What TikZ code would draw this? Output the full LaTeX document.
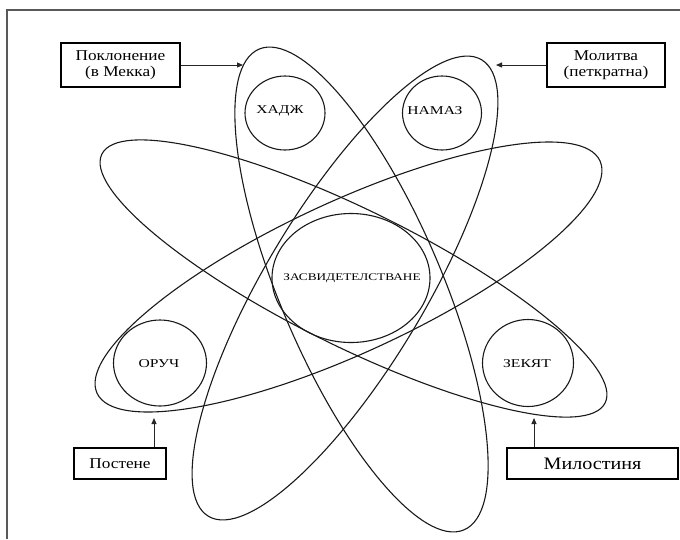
\documentclass[tikz,border=0pt]{standalone}
\usepackage{fontspec}
\setmainfont{Liberation Serif}
\newfontfamily\boxfont[FakeStretch=1.15]{Liberation Serif}
\newfontfamily\ringfont[FakeStretch=1.3]{Liberation Serif}
\usetikzlibrary{arrows.meta,shapes.geometric}

\begin{document}
\begin{tikzpicture}[x=1pt,y=-1pt,
	orbit/.style={draw=black!90,line width=1.1pt},
	ring/.style={draw=black!90,line width=1.1pt,ellipse,inner sep=0pt},
	ringtext/.style={font=\ringfont\fontsize{12}{12}\selectfont,inner sep=0pt},
	tag/.style={draw,line width=1.2pt,rectangle,inner sep=0pt,align=center,font=\boxfont\fontsize{15}{16}\selectfont},
	pointer/.style={-{Triangle[length=6pt,width=5pt]},line width=1pt,draw=black!85}]
	\useasboundingbox (0,0) rectangle (680,539);
	\draw[line width=1.6pt,gray!70!black] (7,539) -- (7,10) -- (680,10);

	\draw[orbit,rotate around={-66.9:(361.5,289.5)}] (361.5,289.5) ellipse [x radius=261.3,y radius=80.8];
	\draw[orbit,rotate around={59.1:(345,288)}] (345,288) ellipse [x radius=266,y radius=80];
	\draw[orbit,rotate around={-26.3:(353.5,278.5)}] (353.5,278.5) ellipse [x radius=280.7,y radius=68.2];
	\draw[orbit,rotate around={24.8:(348.5,277)}] (348.5,277) ellipse [x radius=277,y radius=75.7];

	\node[ring,minimum width=158pt,minimum height=129pt] (shahada) at (351,278) {};
	\node[ring,minimum width=80pt,minimum height=74pt] (hajj) at (285,113) {};
	\node[ring,minimum width=79pt,minimum height=74pt] (salat) at (442,113) {};
	\node[ring,minimum width=93pt,minimum height=86pt] (sawm) at (160,363) {};
	\node[ring,minimum width=91pt,minimum height=87pt] (zakat) at (528,363) {};

	\node[ringtext,font=\ringfont\fontsize{10.2}{12}\selectfont] (shahadatext) at (352,278) {ЗАСВИДЕТЕЛСТВАНЕ};
	\node[ringtext] (hajjtext) at (280,111) {ХАДЖ};
	\node[ringtext] (salattext) at (435,111) {НАМАЗ};
	\node[ringtext] (sawmtext) at (159,364) {ОРУЧ};
	\node[ringtext] (zakattext) at (527,364) {ЗЕКЯТ};

	\node[tag,minimum width=119pt,minimum height=44pt] (mecca) at (120.5,65) {Поклонение\\(в Мекка)};
	\node[tag,minimum width=118pt,minimum height=44pt] (prayer) at (606,65) {Молитва\\(петкратна)};
	\node[tag,minimum width=92pt,minimum height=31pt] (fast) at (120,463.5) {Постене};
	\node[tag,minimum width=171pt,minimum height=31pt,font=\boxfont\fontsize{17.5}{18}\selectfont] (alms) at (592.5,463.5) {Милостиня};

	\coordinate (hajjtip) at (243,65);
	\coordinate (salattip) at (496,65);
	\coordinate (sawmtip) at (154,418);
	\coordinate (zakattip) at (534,418);
	\draw[pointer] (mecca) -- (hajjtip);
	\draw[pointer] (prayer) -- (salattip);
	\draw[pointer] (sawmtip |- fast.north) -- (sawmtip);
	\draw[pointer] (zakattip |- alms.north) -- (zakattip);
\end{tikzpicture}
\end{document}
